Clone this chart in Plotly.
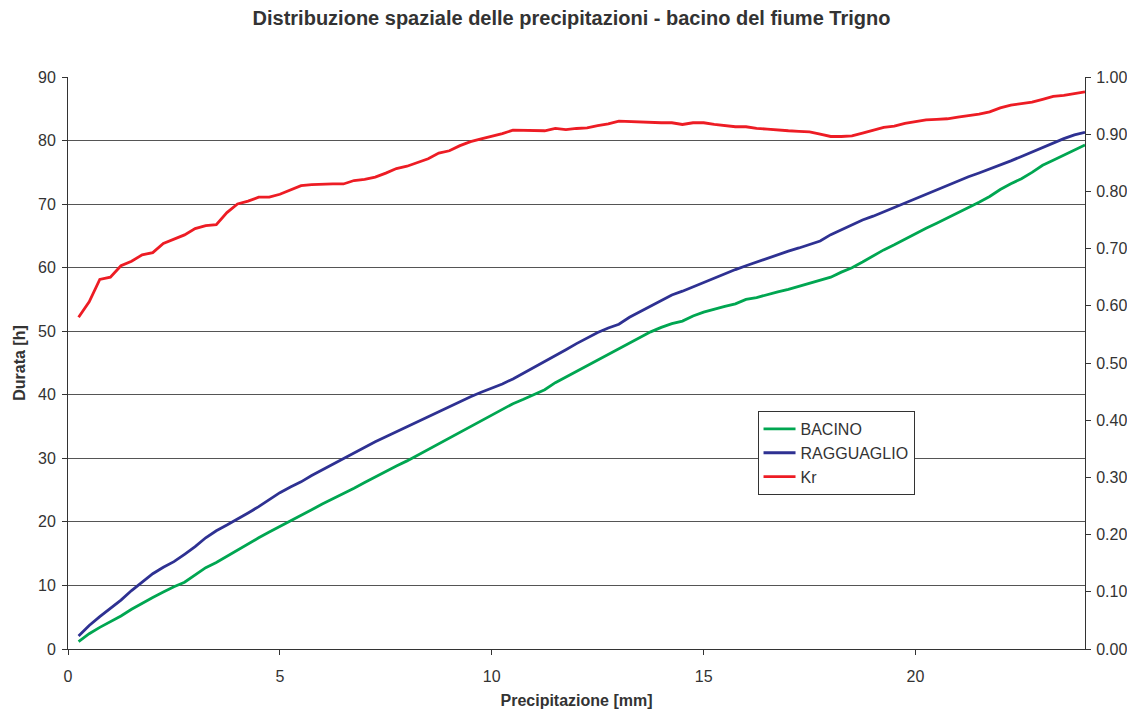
import numpy as np
import plotly.graph_objects as go

# precipitazione [mm], passo 0.25
precip = np.arange(1, 97) * 0.25

bacino = [
    1.15, 2.4, 3.4, 4.3, 5.2, 6.25, 7.2, 8.1, 8.95, 9.8, 10.5, 11.7,
    12.8, 13.6, 14.6, 15.6, 16.6, 17.5, 18.4, 19.25, 20.2, 21.0, 21.9, 22.8,
    23.6, 24.5, 25.3, 26.2, 27.1, 28.0, 28.8, 29.6, 30.5, 31.3, 32.3, 33.2,
    34.1, 35.0, 35.9, 36.7, 37.6, 38.6, 39.3, 40.0, 40.8, 41.9, 42.8, 43.6,
    44.5, 45.5, 46.4, 47.3, 48.2, 49.1, 49.9, 50.6, 51.2, 51.6, 52.4, 53.0,
    53.5, 53.9, 54.3, 55.0, 55.3, 55.8, 56.2, 56.6, 57.1, 57.5, 58.0, 58.5,
    59.3, 60.0, 60.9, 61.9, 62.8, 63.6, 64.5, 65.3, 66.2, 67.0, 67.8, 68.6,
    69.5, 70.3, 71.2, 72.3, 73.2, 74.0, 75.0, 76.1, 76.9, 77.7, 78.5, 79.3,
]

ragguaglio = [
    2.05, 3.7, 5.1, 6.4, 7.7, 9.2, 10.6, 11.85, 12.85, 13.75, 14.9, 16.1,
    17.5, 18.6, 19.5, 20.4, 21.4, 22.4, 23.5, 24.6, 25.5, 26.3, 27.3, 28.2,
    29.1, 30.0, 30.9, 31.8, 32.6, 33.4, 34.2, 35.0, 35.8, 36.6, 37.4, 38.2,
    38.95, 39.7, 40.4, 41.0, 41.7, 42.5, 43.4, 44.3, 45.2, 46.2, 47.1, 48.05,
    48.95, 49.8, 50.5, 51.1, 52.2, 53.1, 54.0, 54.9, 55.7, 56.3, 57.0, 57.7,
    58.4, 59.0, 59.7, 60.3, 60.9, 61.4, 62.0, 62.6, 63.1, 63.6, 64.2, 65.2,
    66.0, 66.8, 67.5, 68.1, 68.8, 69.5, 70.1, 70.8, 71.5, 72.2, 72.9, 73.6,
    74.3, 74.9, 75.5, 76.1, 76.8, 77.5, 78.2, 79.0, 79.6, 80.3, 80.9, 81.3,
]

kr = [
    0.580, 0.607, 0.646, 0.650, 0.670, 0.678, 0.689, 0.693, 0.709, 0.716, 0.724, 0.735,
    0.740, 0.742, 0.763, 0.778, 0.783, 0.790, 0.790, 0.795, 0.802, 0.810, 0.812, 0.813,
    0.813, 0.813, 0.819, 0.821, 0.825, 0.832, 0.840, 0.844, 0.850, 0.857, 0.867, 0.871,
    0.880, 0.887, 0.892, 0.896, 0.901, 0.907, 0.907, 0.906, 0.906, 0.910, 0.908, 0.910,
    0.911, 0.915, 0.918, 0.923, 0.922, 0.922, 0.921, 0.920, 0.920, 0.917, 0.920, 0.920,
    0.917, 0.915, 0.913, 0.913, 0.910, 0.909, 0.907, 0.906, 0.905, 0.904, 0.900, 0.896,
    0.896, 0.897, 0.902, 0.907, 0.912, 0.914, 0.919, 0.922, 0.925, 0.926, 0.927, 0.930,
    0.932, 0.935, 0.939, 0.946, 0.951, 0.953, 0.956, 0.961, 0.966, 0.968, 0.971, 0.974,
]

FONT = "Liberation Sans, Arial, Helvetica, sans-serif"
AXIS = "#333333"

fig = go.Figure()
fig.add_trace(go.Scatter(x=precip, y=bacino, mode="lines", name="BACINO",
                         line=dict(color="#00a651", width=2.8)))
fig.add_trace(go.Scatter(x=precip, y=ragguaglio, mode="lines", name="RAGGUAGLIO",
                         line=dict(color="#2e3192", width=2.8)))
fig.add_trace(go.Scatter(x=precip, y=kr, mode="lines", name="Kr", yaxis="y2",
                         line=dict(color="#ed1c24", width=2.8)))

# la pagina ha 8px di margine nel body: figura un po' più piccola
fig.update_layout(
    width=1127,
    height=705,
    plot_bgcolor="white",
    paper_bgcolor="white",
    font=dict(family=FONT, size=16, color=AXIS),
    margin=dict(l=60, r=50, t=69, b=64, autoexpand=False),
    title=dict(
        text="<b>Distribuzione spaziale delle precipitazioni - bacino del fiume Trigno</b>",
        x=0.5, xanchor="center", y=0.986, yanchor="middle",
        font=dict(size=20, color=AXIS),
    ),
    showlegend=True,
    legend=dict(
        x=0.678, y=0.416, xanchor="left", yanchor="top",
        bordercolor="#333333", borderwidth=1, bgcolor="white",
        font=dict(size=16, color=AXIS),
        tracegroupgap=0, itemwidth=32,
    ),
)

fig.update_xaxes(
    range=[0, 24], tickmode="linear", tick0=0, dtick=5,
    showgrid=False, showline=True, linecolor=AXIS, linewidth=1,
    ticks="outside", ticklen=5, tickcolor=AXIS, zeroline=False,
    ticklabelstandoff=8, automargin=False,
    title=dict(text="<b>Precipitazione [mm]</b>", font=dict(size=16), standoff=10),
)
fig.update_yaxes(
    range=[0, 90], tickmode="linear", tick0=0, dtick=10,
    showgrid=True, gridcolor="#555555", gridwidth=1,
    showline=True, linecolor=AXIS, linewidth=1,
    ticks="outside", ticklen=5, tickcolor=AXIS, zeroline=False,
    ticklabelstandoff=3, automargin=False,
    title=dict(text="<b>Durata [h]</b>", font=dict(size=16), standoff=8),
)
fig.update_layout(
    yaxis2=dict(
        overlaying="y", side="right", range=[0, 1.0],
        tickmode="linear", tick0=0, dtick=0.1, tickformat=".2f",
        showgrid=False, showline=True, linecolor=AXIS, linewidth=1,
        ticks="outside", ticklen=5, tickcolor=AXIS, zeroline=False,
        ticklabelstandoff=2, automargin=False,
    )
)

fig.write_html("out.html")
